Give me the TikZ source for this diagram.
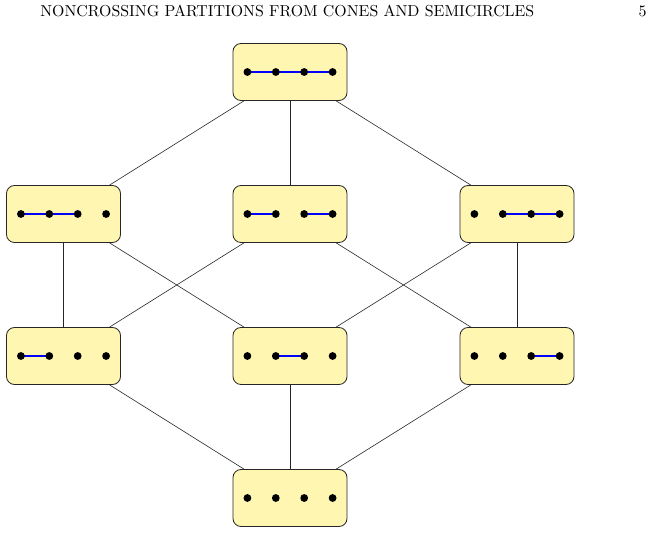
\documentclass[tikz,border=0pt]{standalone}
\usetikzlibrary{backgrounds}
\definecolor{boxfill}{RGB}{255,246,178}
\begin{document}
\begin{tikzpicture}[x=1pt,y=-1pt,
  pbox/.style={draw=black!85, fill=boxfill, rounded corners=8pt, minimum width=114pt, minimum height=57pt, inner sep=0pt, line width=0.8pt},
  conn/.style={draw=black!85, line width=0.6pt},
  blk/.style={draw=blue, line width=1.4pt},
  hdr/.style={inner sep=0pt, scale=1.588}]
\useasboundingbox (0,0) rectangle (654,553);
\node[hdr, anchor=base west] (title) at (40,17) {NONCROSSING PARTITIONS FROM CONES AND SEMICIRCLES};
\node[hdr, anchor=base east] (page) at (647,17) {5};
\newcommand\pbx[3]{\node[pbox] (#1) at (#2,#3) {};}
\newcommand\pdots[2]{\foreach \i in {1,...,4} \fill (#1-71+28.4*\i,#2) circle (3.9pt);}
\newcommand\pedge[4]{\draw[blk] (#1-71+28.4*#3,#2) -- (#1-71+28.4*#4,#2);}
% top
\pbx{t}{290}{72}
\pedge{290}{72}{1}{4}\pdots{290}{72}
% row 2
\pbx{a}{63.5}{214}
\pedge{63.5}{214}{1}{3}\pdots{63.5}{214}
\pbx{b}{290}{214}
\pedge{290}{214}{1}{2}\pedge{290}{214}{3}{4}\pdots{290}{214}
\pbx{c}{517}{214}
\pedge{517}{214}{2}{4}\pdots{517}{214}
% row 3
\pbx{d}{63.5}{356}
\pedge{63.5}{356}{1}{2}\pdots{63.5}{356}
\pbx{e}{290}{356}
\pedge{290}{356}{2}{3}\pdots{290}{356}
\pbx{f}{517}{356}
\pedge{517}{356}{3}{4}\pdots{517}{356}
% bottom
\pbx{z}{290}{498}
\pdots{290}{498}
\begin{scope}[on background layer]
\draw[conn] (t) -- (a);
\draw[conn] (t) -- (b);
\draw[conn] (t) -- (c);
\draw[conn] (a) -- (d);
\draw[conn] (a) -- (e);
\draw[conn] (b) -- (d);
\draw[conn] (b) -- (f);
\draw[conn] (c) -- (e);
\draw[conn] (c) -- (f);
\draw[conn] (d) -- (z);
\draw[conn] (e) -- (z);
\draw[conn] (f) -- (z);
\end{scope}
\end{tikzpicture}
\end{document}
